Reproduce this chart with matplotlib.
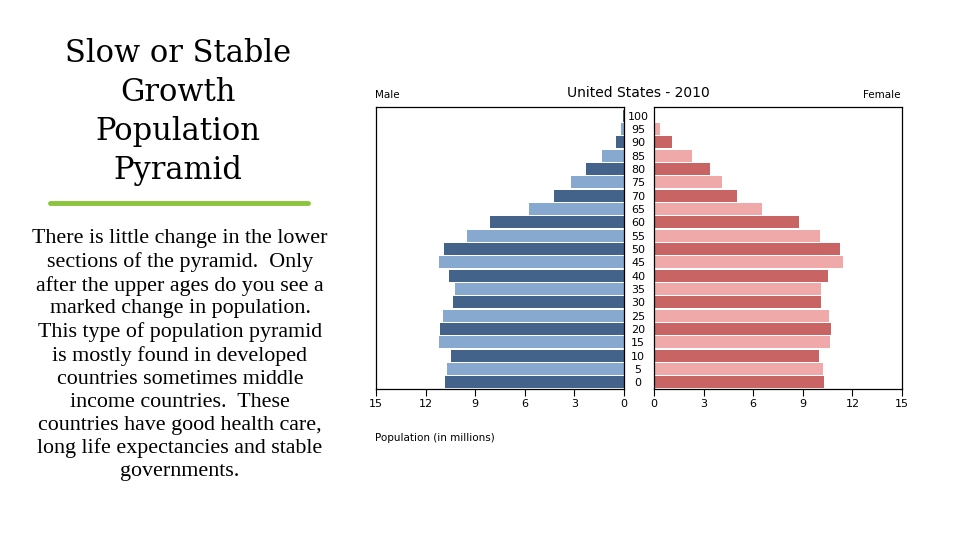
import matplotlib.pyplot as plt
import numpy as np

ages = [0, 5, 10, 15, 20, 25, 30, 35, 40, 45, 50, 55, 60, 65, 70, 75, 80, 85, 90, 95, 100]
male = [10.83, 10.73, 10.47, 11.21, 11.15, 10.95, 10.34, 10.22, 10.57, 11.21, 10.89,
        9.50, 8.09, 5.77, 4.22, 3.19, 2.32, 1.35, 0.48, 0.18, 0.05]
female = [10.29, 10.25, 9.97, 10.63, 10.69, 10.57, 10.09, 10.09, 10.51, 11.42, 11.26,
          10.07, 8.74, 6.53, 5.01, 4.09, 3.40, 2.32, 1.09, 0.34, 0.05]
xticks = [0, 3, 6, 9, 12, 15]

male_cols = ["#44638a" if i % 2 == 0 else "#87a9d0" for i in range(len(ages))]
female_cols = ["#c86464" if i % 2 == 0 else "#f0a9a9" for i in range(len(ages))]

fig = plt.figure(figsize=(9.6, 5.4), dpi=100)
fig.patch.set_facecolor("white")

# slide text on the left
fig.text(178 / 960, 1 - 112 / 540, "Slow or Stable\nGrowth\nPopulation\nPyramid",
         ha="center", va="center", family="DejaVu Serif", fontsize=22, linespacing=1.34)
fig.add_artist(plt.Line2D([50 / 960, 308 / 960], [1 - 203 / 540, 1 - 203 / 540],
                          color="#8cc43c", linewidth=3.5, solid_capstyle="round"))
body = ("There is little change in the lower\n"
        "sections of the pyramid.  Only\n"
        "after the upper ages do you see a\n"
        "marked change in population.\n"
        "This type of population pyramid\n"
        "is mostly found in developed\n"
        "countries sometimes middle\n"
        "income countries.  These\n"
        "countries have good health care,\n"
        "long life expectancies and stable\n"
        "governments.")
fig.text(180 / 960, 1 - 355 / 540, body, ha="center", va="center",
         family="Liberation Serif", fontsize=15.8, linespacing=1.27)

# pyramid
ax_l = fig.add_axes([376 / 960, 1 - 389 / 540, 248 / 960, 282 / 540])
ax_r = fig.add_axes([654 / 960, 1 - 389 / 540, 248 / 960, 282 / 540])

y = np.arange(len(ages))
ax_l.barh(y, male, height=0.9, color=male_cols)
ax_r.barh(y, female, height=0.9, color=female_cols)

for ax in (ax_l, ax_r):
    ax.set_ylim(-0.5, 20.65)
    ax.set_xticks(xticks)
    ax.set_xticklabels([str(t) for t in xticks])
    ax.tick_params(axis="x", labelsize=8, length=5, width=0.8, pad=2)
    for s in ax.spines.values():
        s.set_linewidth(0.9)

ax_l.set_xlim(15, 0)
ax_r.set_xlim(0, 15)
ax_l.set_yticks([])
ax_r.set_yticks(y)
ax_r.set_yticklabels([str(a) for a in ages], ha="center")
ax_r.tick_params(axis="y", length=0, labelsize=8, pad=11.5)

fig.text(638 / 960, 1 - 93 / 540, "United States - 2010", ha="center", va="center", fontsize=10)
fig.text(375 / 960, 1 - 95 / 540, "Male", ha="left", va="center", fontsize=7.5)
fig.text(900 / 960, 1 - 95 / 540, "Female", ha="right", va="center", fontsize=7.5)
fig.text(375 / 960, 1 - 438 / 540, "Population (in millions)", ha="left", va="center", fontsize=7.5)

plt.savefig("out.png", dpi=100)
